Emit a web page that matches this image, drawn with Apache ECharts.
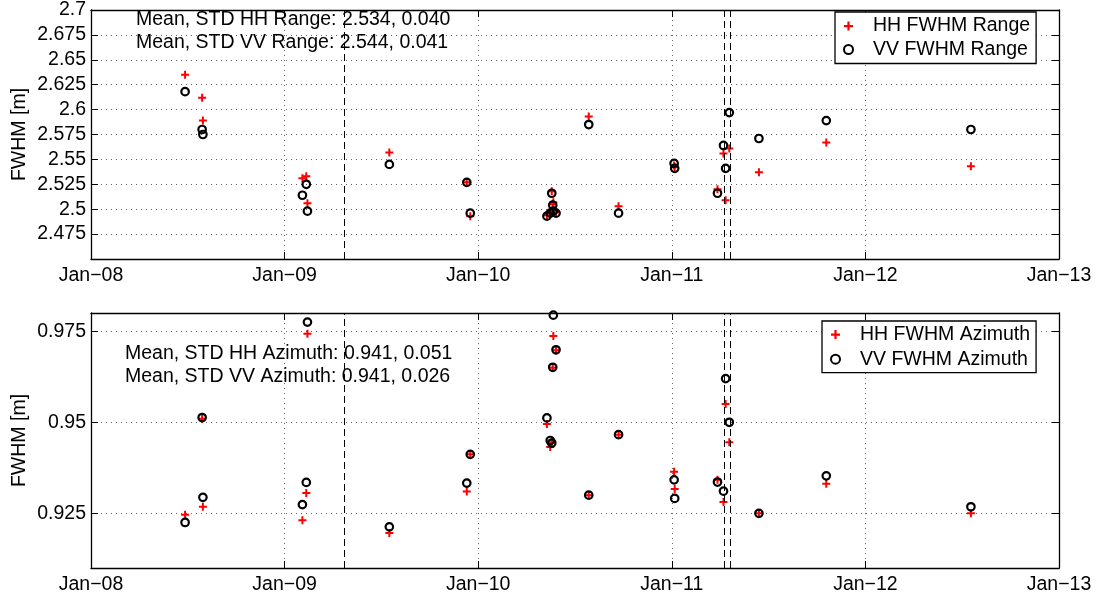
<!DOCTYPE html>
<html>
<head>
<meta charset="utf-8">
<script src="https://cdn.jsdelivr.net/npm/echarts@6/dist/echarts.min.js"></script>
<style>
html, body { margin: 0; padding: 0; background: #ffffff; }
#chart { width: 1097px; height: 600px; }
</style>
</head>
<body>
<div id="chart"></div>
<script>
// ---- data (acquisition dates as decimal years) ----
const dates = [2008.486, 2008.574, 2008.578, 2009.092, 2009.112, 2009.118, 2009.541, 2009.941, 2009.959,
  2010.355, 2010.372, 2010.380, 2010.385, 2010.388, 2010.402, 2010.571, 2010.725, 2011.012, 2011.015,
  2011.236, 2011.267, 2011.278, 2011.297, 2011.450, 2011.798, 2012.545];
const hhRange = [2.635, 2.612, 2.589, 2.531, 2.533, 2.506, 2.557, 2.527, 2.493,
  2.494, 2.497, 2.518, 2.505, 2.507, 2.497, 2.593, 2.503, 2.544, 2.542,
  2.520, 2.556, 2.509, 2.561, 2.537, 2.567, 2.543];
const vvRange = [2.618, 2.580, 2.575, 2.514, 2.525, 2.498, 2.545, 2.527, 2.496,
  2.493, 2.496, 2.516, 2.504, 2.498, 2.496, 2.585, 2.496, 2.546, 2.541,
  2.516, 2.564, 2.541, 2.597, 2.571, 2.589, 2.580];
const hhAzimuth = [0.9246, 0.9510, 0.9268, 0.9231, 0.9306, 0.9743, 0.9196, 0.9310, 0.9412,
  0.9495, 0.9432, 0.9445, 0.9650, 0.9737, 0.9698, 0.9300, 0.9466, 0.9364, 0.9317,
  0.9342, 0.9281, 0.9550, 0.9445, 0.9250, 0.9331, 0.9250];
const vvAzimuth = [0.9225, 0.9513, 0.9294, 0.9274, 0.9335, 0.9775, 0.9213, 0.9333, 0.9412,
  0.9512, 0.9450, 0.9443, 0.9651, 0.9794, 0.9699, 0.9300, 0.9466, 0.9342, 0.9291,
  0.9336, 0.9311, 0.9620, 0.9500, 0.9250, 0.9353, 0.9268];
const eventLines = [2009.308, 2011.267, 2011.297];
const yearRange = [2008, 2013];
const rangeAxis = { min: 2.45, max: 2.7, interval: 0.025 };
const azimuthAxis = { min: 0.91, max: 0.98 };
const azimuthTicks = [0.925, 0.95, 0.975];
const statsRange = ['Mean, STD HH Range: 2.534, 0.040', 'Mean, STD VV Range: 2.544, 0.041'];
const statsAzimuth = ['Mean, STD HH Azimuth: 0.941, 0.051', 'Mean, STD VV Azimuth: 0.941, 0.026'];

// ---- styling ----
const FONT = 'Liberation Sans';
const FS = 19.5;
const plusPath = 'path://M3,0h2v3h3v2h-3v3h-2v-3h-3v-2h3z';
const gridDots = { color: '#666', width: 1, type: [1, 4] };

function pairs(xs, ys) { return xs.map((x, i) => [x, ys[i]]); }

function xAxisMain(gi) {
  return {
    type: 'value', gridIndex: gi, position: 'bottom',
    min: yearRange[0], max: yearRange[1], interval: 1,
    axisLine: { show: true, onZero: false, lineStyle: { color: '#000', width: 1.3 } },
    axisTick: { show: true, inside: true, length: 7, lineStyle: { color: '#000', width: 1 } },
    axisLabel: { margin: 7, color: '#000', fontFamily: FONT, fontSize: FS,
      formatter: v => 'Jan\u2212' + String(v).slice(2) },
    splitLine: { show: true, lineStyle: gridDots }
  };
}
function xAxisTop(gi) {
  return {
    type: 'value', gridIndex: gi, position: 'top',
    min: yearRange[0], max: yearRange[1], interval: 1,
    axisLine: { show: true, onZero: false, lineStyle: { color: '#000', width: 1.3 } },
    axisTick: { show: true, inside: true, length: 7, lineStyle: { color: '#000', width: 1 } },
    axisLabel: { show: false }, splitLine: { show: false }
  };
}
const yLabel = { margin: 5, color: '#000', fontFamily: FONT, fontSize: FS };
const yName = { name: 'FWHM [m]', nameLocation: 'middle', nameGap: 61, nameMoveOverlap: false,
  nameTextStyle: { color: '#000', fontFamily: FONT, fontSize: FS } };

function markLines() {
  return {
    silent: true, symbol: 'none', animation: false,
    label: { show: false },
    lineStyle: { color: '#000', width: 1, type: [7, 4], opacity: 1 },
    data: eventLines.map(v => ({ xAxis: v }))
  };
}

function hhSeries(name, xi, yi, ys, withLines) {
  const s = {
    name, type: 'scatter', xAxisIndex: xi, yAxisIndex: yi,
    symbol: plusPath, symbolSize: 8,
    itemStyle: { color: '#ff0000', opacity: 1 },
    data: pairs(dates, ys), z: 3
  };
  if (withLines) s.markLine = markLines();
  return s;
}
function vvSeries(name, xi, yi, ys) {
  return {
    name, type: 'scatter', xAxisIndex: xi, yAxisIndex: yi,
    symbol: 'circle', symbolSize: 7.5,
    itemStyle: { color: 'rgba(0,0,0,0)', borderColor: '#000', borderWidth: 2.2, opacity: 1 },
    data: pairs(dates, ys), z: 4
  };
}

function legendAt(left, top, names, gap, padV) {
  return {
    data: names, orient: 'vertical', left, top,
    itemWidth: 39, itemHeight: 9, itemGap: gap,
    padding: [padV, 6, padV, 8],
    backgroundColor: '#fff', borderColor: '#000', borderWidth: 1.3, borderRadius: 0,
    selectedMode: false,
    textStyle: { color: '#000', fontFamily: FONT, fontSize: FS, lineHeight: 20, padding: 0 }
  };
}

function textLine(x, y, t) {
  return { type: 'text', x, y, z: 100,
    style: { text: t, fill: '#000', font: FS + 'px "' + FONT + '"', verticalAlign: 'middle', align: 'left' } };
}

const option = {
  animation: false,
  backgroundColor: '#fff',
  grid: [
    { left: 91, top: 5, width: 968, height: 254, containLabel: false, show: false },
    { left: 91, top: 313, width: 968, height: 255, containLabel: false, show: false }
  ],
  xAxis: [xAxisMain(0), xAxisMain(1), xAxisTop(0), xAxisTop(1)],
  yAxis: [
    Object.assign({
      type: 'value', gridIndex: 0, position: 'left',
      min: rangeAxis.min, max: rangeAxis.max, interval: rangeAxis.interval,
      axisLine: { show: true, onZero: false, lineStyle: { color: '#000', width: 1.3 } },
      axisTick: { show: true, inside: true, length: 7, lineStyle: { color: '#000', width: 1 } },
      axisLabel: Object.assign({ showMinLabel: false }, yLabel),
      splitLine: { show: true, lineStyle: gridDots }
    }, yName),
    Object.assign({
      type: 'value', gridIndex: 1, position: 'left',
      min: azimuthAxis.min, max: azimuthAxis.max,
      axisLine: { show: true, onZero: false, lineStyle: { color: '#000', width: 1.3 } },
      axisTick: { show: true, inside: true, length: 7, customValues: azimuthTicks, lineStyle: { color: '#000', width: 1 } },
      axisLabel: Object.assign({ customValues: azimuthTicks }, yLabel),
      splitLine: { show: true, lineStyle: gridDots }
    }, yName),
    {
      type: 'value', gridIndex: 0, position: 'right',
      min: rangeAxis.min, max: rangeAxis.max, interval: rangeAxis.interval,
      axisLine: { show: true, onZero: false, lineStyle: { color: '#000', width: 1.3 } },
      axisTick: { show: true, inside: true, length: 7, lineStyle: { color: '#000', width: 1 } },
      axisLabel: { show: false }, splitLine: { show: false }
    },
    {
      type: 'value', gridIndex: 1, position: 'right',
      min: azimuthAxis.min, max: azimuthAxis.max,
      axisLine: { show: true, onZero: false, lineStyle: { color: '#000', width: 1.3 } },
      axisTick: { show: true, inside: true, length: 7, customValues: azimuthTicks, lineStyle: { color: '#000', width: 1 } },
      axisLabel: { show: false }, splitLine: { show: false }
    }
  ],
  legend: [
    legendAt(835, 12, ['HH FWHM Range', 'VV FWHM Range'], 3.5, 4),
    legendAt(822, 321, ['HH FWHM Azimuth', 'VV FWHM Azimuth'], 4.7, 3.5)
  ],
  series: [
    hhSeries('HH FWHM Range', 0, 0, hhRange, true),
    vvSeries('VV FWHM Range', 0, 0, vvRange),
    hhSeries('HH FWHM Azimuth', 1, 1, hhAzimuth, true),
    vvSeries('VV FWHM Azimuth', 1, 1, vvAzimuth)
  ],
  graphic: [
    textLine(136, 20, statsRange[0]),
    textLine(136, 43, statsRange[1]),
    textLine(125, 354, statsAzimuth[0]),
    textLine(125, 377, statsAzimuth[1])
  ]
};

const chart = echarts.init(document.getElementById('chart'), null, { renderer: 'canvas' });
chart.setOption(option);
</script>
</body>
</html>
